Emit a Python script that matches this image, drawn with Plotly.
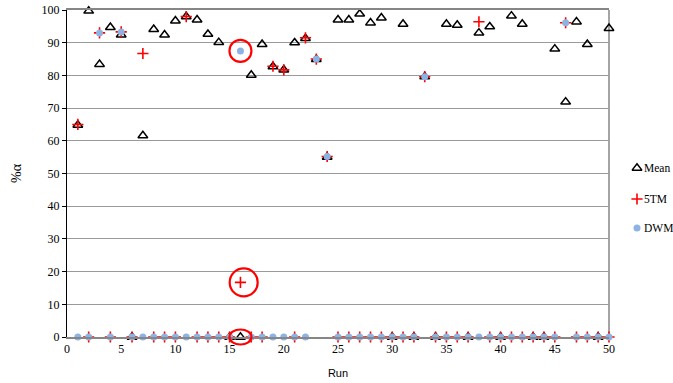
import plotly.graph_objects as go

runs = list(range(1, 51))

mean_vals = [64.8, 99.7, 83.4, 94.7, 92.4, 0, 61.6, 94.1, 92.4, 96.7,
             98.0, 97.0, 92.6, 90.1, 0, 0, 80.1, 89.5, 82.7, 81.7,
             90.0, 91.3, 84.9, 55.0, 97.0, 97.0, 98.8, 96.1, 97.6, 0,
             95.7, 0, 79.6, 0, 95.7, 95.4, 0, 93.0, 94.9, 0,
             98.2, 95.7, 0, 0, 88.1, 71.9, 96.4, 89.5, 0, 94.4]

tm5_vals = [65.0, 0, 93.0, 0, 93.3, 0, 86.7, 0, 0, 0,
            98.0, 0, 0, 0, 0, 16.7, 0, 0, 82.8, 81.7,
            0, 91.5, 85.0, 55.2, 0, 0, 0, 0, 0, 0,
            0, 0, 79.6, 0, 0, 0, 0, 96.4, 0, 0,
            0, 0, 0, 0, 0, 96.1, 0, 0, 0, 0]

dwm_vals = [0, 0, 93.0, 0, 93.3, 0, 0, 0, 0, 0,
            0, 0, 0, 0, 0, 87.5, 0, 0, 0, 0,
            0, 0, 85.0, 55.2, 0, 0, 0, 0, 0, 0,
            0, 0, 79.6, 0, 0, 0, 0, 0, 0, 0,
            0, 0, 0, 0, 0, 96.1, 0, 0, 0, 0]

series_names = ["Mean", "5TM", "DWM"]

x_ticks = [0, 5, 10, 15, 20, 25, 30, 35, 40, 45, 50]
y_ticks = [0, 10, 20, 30, 40, 50, 60, 70, 80, 90, 100]

X_RANGE = (0, 50)
Y_RANGE = (0, 100)

W, H = 673, 383
ML, MR, MT, MB = 67, 0, 10, 46
PLOT_RIGHT = 609                      # pixel x of right edge of plot area
PAPER_W = W - ML - MR
PH = H - MT - MB
DX = (PLOT_RIGHT - ML) / PAPER_W      # main x-axis domain end (paper)

# legend layout (pixels)
LEG_LEFT = 612
LEG_MARKER_X = 637
LEG_TEXT_X = 642
LEG_Y = [168, 199, 228]

serif = "Liberation Serif, Times New Roman, serif"

styles = [
    dict(symbol="triangle-up-open", size=8.5, color="black", line=dict(width=1.5, color="black")),
    dict(symbol="cross-thin", size=8, color="#ff0000", line=dict(width=1.6, color="#ff0000")),
    dict(symbol="circle", size=7, color="#8db3e2", line=dict(width=0)),
]

fig = go.Figure()
for name, vals, st in zip(series_names, [mean_vals, tm5_vals, dwm_vals], styles):
    fig.add_trace(go.Scatter(x=runs, y=vals, mode="markers", name=name,
                             marker=st, cliponaxis=False, showlegend=False))

# legend keys on an overlay axis (pixel coordinates)
for i, (name, st) in enumerate(zip(series_names, styles)):
    fig.add_trace(go.Scatter(x=[LEG_MARKER_X], y=[LEG_Y[i]], mode="markers",
                             marker=st, xaxis="x2", yaxis="y2", cliponaxis=False,
                             showlegend=False, hoverinfo="skip"))

annotations = []
for i, name in enumerate(series_names):
    annotations.append(dict(x=LEG_TEXT_X, y=LEG_Y[i], xref="x2", yref="y2", text=name,
                            showarrow=False, xanchor="left", yanchor="middle",
                            font=dict(family=serif, size=11.5, color="black")))

# highlighted points (run, value, rx_px, ry_px, x shift in runs)
highlight_run = 16
highlights = [
    (highlight_run, dwm_vals[highlight_run - 1], 11, 11, 0),
    (highlight_run, tm5_vals[highlight_run - 1], 14, 14, 0.3),
    (highlight_run, mean_vals[highlight_run - 1], 11, 7.5, 0),
]

shapes = []
for r, v, rx, ry, dx in highlights:
    cx = DX * (r - X_RANGE[0] + dx) / (X_RANGE[1] - X_RANGE[0])
    cy = (v - Y_RANGE[0]) / (Y_RANGE[1] - Y_RANGE[0])
    shapes.append(dict(type="circle", xref="paper", yref="paper",
                       x0=cx - rx / PAPER_W, x1=cx + rx / PAPER_W,
                       y0=cy - ry / PH, y1=cy + ry / PH,
                       line=dict(color="#ff0000", width=2.2), layer="above"))
shapes.append(dict(type="line", xref="paper", yref="paper", x0=DX, x1=DX, y0=0, y1=1,
                   line=dict(color="#868686", width=1.5), layer="below"))

leg_dom0 = (LEG_LEFT - ML) / PAPER_W

fig.update_layout(
    width=W, height=H,
    margin=dict(l=ML, r=MR, t=MT, b=MB, autoexpand=False),
    paper_bgcolor="white", plot_bgcolor="white",
    shapes=shapes, annotations=annotations,
    showlegend=False,
    xaxis=dict(domain=[0, DX], range=list(X_RANGE), tickvals=x_ticks,
               ticktext=[str(t) for t in x_ticks],
               showgrid=False, zeroline=False, showline=True, linecolor="#868686",
               linewidth=1.5, mirror=True, ticks="",
               tickfont=dict(family=serif, size=12, color="black"),
               title=dict(text="Run", font=dict(family="Liberation Sans, Arial, sans-serif",
                                                size=11, color="black"), standoff=14)),
    yaxis=dict(range=list(Y_RANGE), tickvals=y_ticks, ticktext=[str(t) for t in y_ticks],
               showgrid=True, gridcolor="#9a9a9a", gridwidth=1, zeroline=False,
               showline=True, linecolor="black", linewidth=1.2,
               ticks="outside", ticklen=4, tickcolor="black",
               tickfont=dict(family=serif, size=12, color="black"),
               title=dict(text="%α", font=dict(family=serif, size=14, color="black"),
                          standoff=16)),
    xaxis2=dict(domain=[leg_dom0, 1], range=[LEG_LEFT, W], visible=False, fixedrange=True),
    yaxis2=dict(domain=[0, 1], range=[H - MB, MT], visible=False, fixedrange=True,
                anchor="x2"),
)

fig.write_html("out.html")
